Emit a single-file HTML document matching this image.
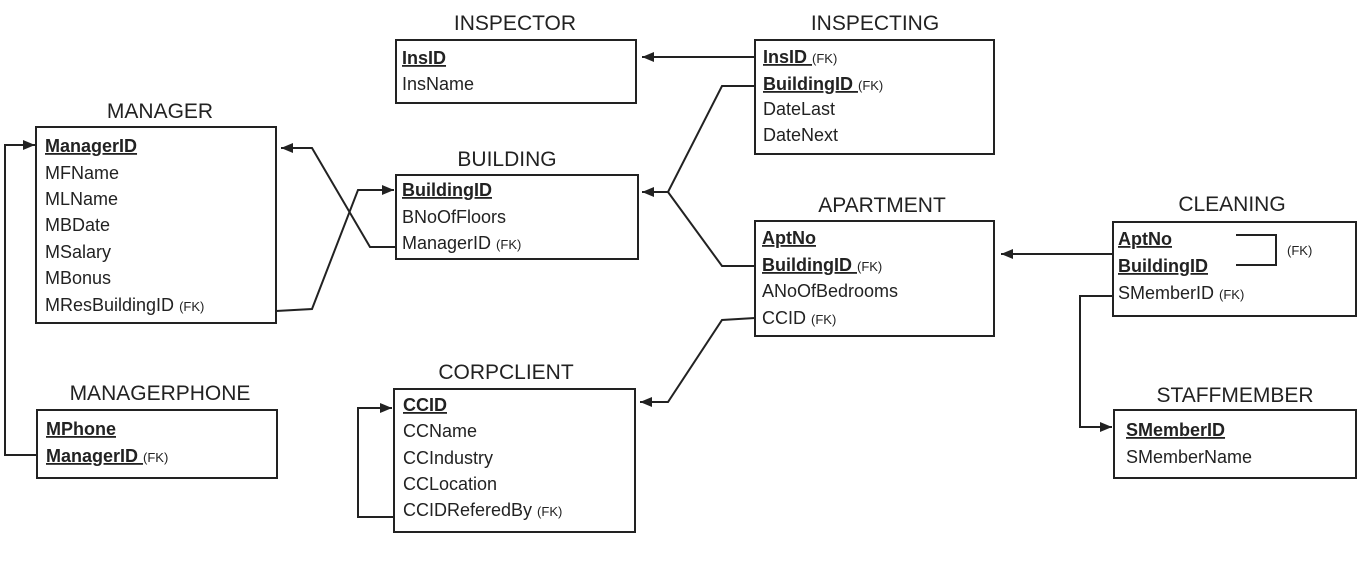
<!DOCTYPE html>
<html><head><meta charset="utf-8"><style>
html,body{margin:0;padding:0;background:#fff;width:1357px;height:586px;overflow:hidden}
svg{display:block}
text{font-family:"Liberation Sans",sans-serif;fill:#222}
.t{font-size:21px;text-anchor:middle}
.f{font-size:18px}
.b{font-weight:bold;text-decoration:underline}
.k{font-size:13px}
rect{fill:#fff;stroke:#222;stroke-width:2}
path{fill:none;stroke:#222;stroke-width:2}
</style></head><body>
<svg width="1357" height="586" viewBox="0 0 1357 586">
<defs><marker id="a" viewBox="0 0 12 10" refX="12" refY="5" markerWidth="6" markerHeight="5" orient="auto"><path d="M0,0 L12,5 L0,10 z" style="fill:#222;stroke:none"/></marker></defs>

<!-- connectors -->
<path d="M755,57 H642" marker-end="url(#a)"/>
<path d="M755,86 H722 L668,192 H642" marker-end="url(#a)"/>
<path d="M668,192 L722,266 H755"/>
<path d="M37,455 H5 V145 H35" marker-end="url(#a)"/>
<path d="M396,247 H370 L312,148 H281" marker-end="url(#a)"/>
<path d="M276,311 L312,309 L358,190 H394" marker-end="url(#a)"/>
<path d="M755,318 L722,320 L668,402 H640" marker-end="url(#a)"/>
<path d="M394,517 H358 V408 H392" marker-end="url(#a)"/>
<path d="M1113,254 H1001" marker-end="url(#a)"/>
<path d="M1113,296 H1080 V427 H1112" marker-end="url(#a)"/>

<!-- INSPECTOR -->
<text class="t" x="515" y="30">INSPECTOR</text>
<rect x="396" y="40" width="240" height="63"/>
<text class="f b" x="402" y="64">InsID</text>
<text class="f" x="402" y="90">InsName</text>

<!-- INSPECTING -->
<text class="t" x="875" y="30">INSPECTING</text>
<rect x="755" y="40" width="239" height="114"/>
<text class="f" x="763" y="63"><tspan class="b">InsID </tspan><tspan class="k">(FK)</tspan></text>
<text class="f" x="763" y="90"><tspan class="b">BuildingID </tspan><tspan class="k">(FK)</tspan></text>
<text class="f" x="763" y="115">DateLast</text>
<text class="f" x="763" y="141">DateNext</text>

<!-- MANAGER -->
<text class="t" x="160" y="118">MANAGER</text>
<rect x="36" y="127" width="240" height="196"/>
<text class="f b" x="45" y="152">ManagerID</text>
<text class="f" x="45" y="179">MFName</text>
<text class="f" x="45" y="205">MLName</text>
<text class="f" x="45" y="231">MBDate</text>
<text class="f" x="45" y="258">MSalary</text>
<text class="f" x="45" y="284">MBonus</text>
<text class="f" x="45" y="311">MResBuildingID <tspan class="k">(FK)</tspan></text>

<!-- BUILDING -->
<text class="t" x="507" y="166">BUILDING</text>
<rect x="396" y="175" width="242" height="84"/>
<text class="f b" x="402" y="196">BuildingID</text>
<text class="f" x="402" y="223">BNoOfFloors</text>
<text class="f" x="402" y="249">ManagerID <tspan class="k">(FK)</tspan></text>

<!-- APARTMENT -->
<text class="t" x="882" y="212">APARTMENT</text>
<rect x="755" y="221" width="239" height="115"/>
<text class="f b" x="762" y="244">AptNo</text>
<text class="f" x="762" y="271"><tspan class="b">BuildingID </tspan><tspan class="k">(FK)</tspan></text>
<text class="f" x="762" y="297">ANoOfBedrooms</text>
<text class="f" x="762" y="324">CCID <tspan class="k">(FK)</tspan></text>

<!-- CLEANING -->
<text class="t" x="1232" y="211">CLEANING</text>
<rect x="1113" y="222" width="243" height="94"/>
<text class="f b" x="1118" y="245">AptNo</text>
<text class="f b" x="1118" y="272">BuildingID</text>
<path d="M1236,235 H1276 V265 H1236"/>
<text class="k" x="1287" y="255">(FK)</text>
<text class="f" x="1118" y="299">SMemberID <tspan class="k">(FK)</tspan></text>

<!-- MANAGERPHONE -->
<text class="t" x="160" y="400">MANAGERPHONE</text>
<rect x="37" y="410" width="240" height="68"/>
<text class="f b" x="46" y="435">MPhone</text>
<text class="f" x="46" y="462"><tspan class="b">ManagerID </tspan><tspan class="k">(FK)</tspan></text>

<!-- CORPCLIENT -->
<text class="t" x="506" y="379">CORPCLIENT</text>
<rect x="394" y="389" width="241" height="143"/>
<text class="f b" x="403" y="411">CCID</text>
<text class="f" x="403" y="437">CCName</text>
<text class="f" x="403" y="464">CCIndustry</text>
<text class="f" x="403" y="490">CCLocation</text>
<text class="f" x="403" y="516">CCIDReferedBy <tspan class="k">(FK)</tspan></text>

<!-- STAFFMEMBER -->
<text class="t" x="1235" y="402">STAFFMEMBER</text>
<rect x="1114" y="410" width="242" height="68"/>
<text class="f b" x="1126" y="436">SMemberID</text>
<text class="f" x="1126" y="463">SMemberName</text>
</svg>
</body></html>
